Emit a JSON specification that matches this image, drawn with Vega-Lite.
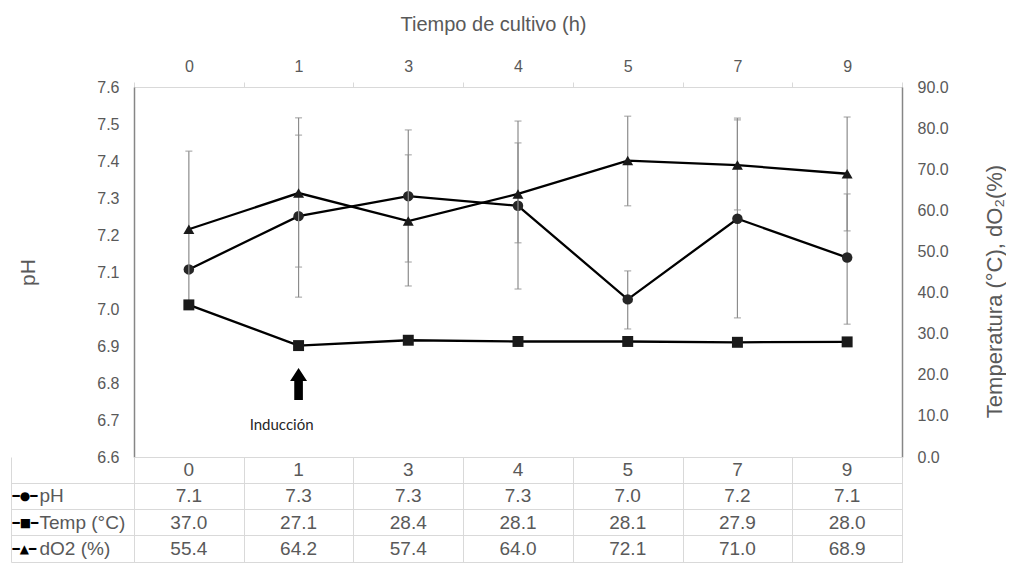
{
  "$schema": "https://vega.github.io/schema/vega-lite/v6.json",
  "padding": {"left": 10, "top": 13, "right": 0, "bottom": 0},
  "background": "white",
  "bounds": "flush",
  "spacing": 0,
  "config": {
    "font": "Liberation Sans",
    "view": {"stroke": "#d9d9d9", "strokeWidth": 1},
    "axis": {"labelFont": "Liberation Sans", "titleFont": "Liberation Sans", "titleFontWeight": "normal", "labelColor": "#595959", "titleColor": "#595959"},
    "axisQuantitative": {"labelOverlap": false}
  },
  "datasets": {
    "obs": [
      {"t": "0", "var": "pH", "value": 7.107},
      {"t": "1", "var": "pH", "value": 7.251},
      {"t": "3", "var": "pH", "value": 7.305},
      {"t": "4", "var": "pH", "value": 7.279},
      {"t": "5", "var": "pH", "value": 7.026},
      {"t": "7", "var": "pH", "value": 7.244},
      {"t": "9", "var": "pH", "value": 7.139},
      {"t": "0", "var": "Temp (°C)", "value": 37.0},
      {"t": "1", "var": "Temp (°C)", "value": 27.1},
      {"t": "3", "var": "Temp (°C)", "value": 28.4},
      {"t": "4", "var": "Temp (°C)", "value": 28.1},
      {"t": "5", "var": "Temp (°C)", "value": 28.1},
      {"t": "7", "var": "Temp (°C)", "value": 27.9},
      {"t": "9", "var": "Temp (°C)", "value": 28.0},
      {"t": "0", "var": "dO2 (%)", "value": 55.4},
      {"t": "1", "var": "dO2 (%)", "value": 64.2},
      {"t": "3", "var": "dO2 (%)", "value": 57.4},
      {"t": "4", "var": "dO2 (%)", "value": 64.0},
      {"t": "5", "var": "dO2 (%)", "value": 72.1},
      {"t": "7", "var": "dO2 (%)", "value": 71.0},
      {"t": "9", "var": "dO2 (%)", "value": 68.9}
    ],
    "errs": [
      {"t": "1", "var": "pH", "lo": 7.032, "hi": 7.470},
      {"t": "3", "var": "pH", "lo": 7.127, "hi": 7.484},
      {"t": "4", "var": "pH", "lo": 7.054, "hi": 7.508},
      {"t": "5", "var": "pH", "lo": 6.946, "hi": 7.103},
      {"t": "7", "var": "pH", "lo": 6.976, "hi": 7.516},
      {"t": "9", "var": "pH", "lo": 6.959, "hi": 7.311},
      {"t": "0", "var": "dO2 (%)", "lo": 36.5, "hi": 74.4},
      {"t": "1", "var": "dO2 (%)", "lo": 46.2, "hi": 82.5},
      {"t": "3", "var": "dO2 (%)", "lo": 41.6, "hi": 73.5},
      {"t": "4", "var": "dO2 (%)", "lo": 52.1, "hi": 76.4},
      {"t": "5", "var": "dO2 (%)", "lo": 61.1, "hi": 82.9},
      {"t": "7", "var": "dO2 (%)", "lo": 60.1, "hi": 82.0},
      {"t": "9", "var": "dO2 (%)", "lo": 55.0, "hi": 82.7}
    ],
    "notes": [
      {"t": "1", "label": "Inducción"}
    ]
  },
  "vconcat": [
    {
      "width": 768,
      "height": 370,
      "layer": [
        {
          "layer": [
            {
              "data": {"name": "errs"},
              "transform": [{"filter": "datum.var == 'pH'"}],
              "mark": {"type": "rule", "color": "#8c8c8c", "strokeWidth": 1.2},
              "encoding": {
                "x": {"field": "t", "type": "ordinal", "bandPosition": 0.5, "title": "Tiempo de cultivo (h)",
                  "scale": {"type": "band", "domain": ["0", "1", "3", "4", "5", "7", "9"], "paddingInner": 0, "paddingOuter": 0},
                  "axis": {"orient": "top", "labelAngle": 0, "labelFontSize": 16, "labelPadding": 8, "tickBand": "extent", "tickSize": 5, "tickColor": "#d9d9d9", "domainColor": "#d9d9d9", "titleFontSize": 20, "titlePadding": 24, "titleX": 359}},
                "y": {"field": "lo", "type": "quantitative", "title": "pH",
                  "scale": {"domain": [6.6, 7.6], "nice": false, "zero": false},
                  "axis": {"orient": "left", "values": [6.6, 6.7, 6.8, 6.9, 7.0, 7.1, 7.2, 7.3, 7.4, 7.5, 7.6], "format": ".1f", "labelOverlap": false, "ticks": false, "grid": false, "domainColor": "#868686", "domainWidth": 1.5, "labelFontSize": 16, "labelPadding": 15, "titleFontSize": 21, "titlePadding": 58}},
                "y2": {"field": "hi"}
              }
            },
            {
              "data": {"name": "errs"},
              "transform": [{"filter": "datum.var == 'pH'"}],
              "mark": {"type": "tick", "color": "#8c8c8c", "size": 7, "thickness": 1.2},
              "encoding": {
                "x": {"field": "t", "type": "ordinal", "title": "Tiempo de cultivo (h)"},
                "y": {"field": "lo", "type": "quantitative", "title": "pH", "scale": {"domain": [6.6, 7.6], "nice": false, "zero": false},
                  "axis": {"orient": "left", "values": [6.6, 6.7, 6.8, 6.9, 7.0, 7.1, 7.2, 7.3, 7.4, 7.5, 7.6], "format": ".1f", "labelOverlap": false, "ticks": false, "grid": false, "domainColor": "#868686", "domainWidth": 1.5, "labelFontSize": 16, "labelPadding": 15, "titleFontSize": 21, "titlePadding": 58}}
              }
            },
            {
              "data": {"name": "errs"},
              "transform": [{"filter": "datum.var == 'pH'"}],
              "mark": {"type": "tick", "color": "#8c8c8c", "size": 7, "thickness": 1.2},
              "encoding": {
                "x": {"field": "t", "type": "ordinal", "title": "Tiempo de cultivo (h)"},
                "y": {"field": "hi", "type": "quantitative", "title": "pH", "scale": {"domain": [6.6, 7.6], "nice": false, "zero": false},
                  "axis": {"orient": "left", "values": [6.6, 6.7, 6.8, 6.9, 7.0, 7.1, 7.2, 7.3, 7.4, 7.5, 7.6], "format": ".1f", "labelOverlap": false, "ticks": false, "grid": false, "domainColor": "#868686", "domainWidth": 1.5, "labelFontSize": 16, "labelPadding": 15, "titleFontSize": 21, "titlePadding": 58}}
              }
            },
            {
              "data": {"name": "obs"},
              "transform": [{"filter": "datum.var == 'pH'"}],
              "mark": {"type": "line", "color": "#000000", "strokeWidth": 2.3},
              "encoding": {
                "x": {"field": "t", "type": "ordinal", "bandPosition": 0.5, "title": "Tiempo de cultivo (h)"},
                "y": {"field": "value", "type": "quantitative", "title": "pH", "scale": {"domain": [6.6, 7.6], "nice": false, "zero": false},
                  "axis": {"orient": "left", "values": [6.6, 6.7, 6.8, 6.9, 7.0, 7.1, 7.2, 7.3, 7.4, 7.5, 7.6], "format": ".1f", "labelOverlap": false, "ticks": false, "grid": false, "domainColor": "#868686", "domainWidth": 1.5, "labelFontSize": 16, "labelPadding": 15, "titleFontSize": 21, "titlePadding": 58}}
              }
            },
            {
              "data": {"name": "obs"},
              "transform": [{"filter": "datum.var == 'pH'"}],
              "mark": {"type": "point", "shape": "circle", "filled": true, "color": "#262626", "opacity": 1, "size": 110},
              "encoding": {
                "x": {"field": "t", "type": "ordinal", "bandPosition": 0.5, "title": "Tiempo de cultivo (h)"},
                "y": {"field": "value", "type": "quantitative", "title": "pH", "scale": {"domain": [6.6, 7.6], "nice": false, "zero": false},
                  "axis": {"orient": "left", "values": [6.6, 6.7, 6.8, 6.9, 7.0, 7.1, 7.2, 7.3, 7.4, 7.5, 7.6], "format": ".1f", "labelOverlap": false, "ticks": false, "grid": false, "domainColor": "#868686", "domainWidth": 1.5, "labelFontSize": 16, "labelPadding": 15, "titleFontSize": 21, "titlePadding": 58}}
              }
            },
            {
              "data": {"name": "notes"},
              "mark": {"type": "point", "shape": "M0,-1L0.53,-0.2L0.27,-0.2L0.27,1L-0.27,1L-0.27,-0.2L-0.53,-0.2Z", "filled": true, "color": "#000000", "opacity": 1, "size": 1024},
              "encoding": {
                "x": {"field": "t", "type": "ordinal", "bandPosition": 0.5, "title": "Tiempo de cultivo (h)"},
                "y": {"datum": 6.797, "type": "quantitative", "title": "pH", "scale": {"domain": [6.6, 7.6], "nice": false, "zero": false},
                  "axis": {"orient": "left", "values": [6.6, 6.7, 6.8, 6.9, 7.0, 7.1, 7.2, 7.3, 7.4, 7.5, 7.6], "format": ".1f", "labelOverlap": false, "ticks": false, "grid": false, "domainColor": "#868686", "domainWidth": 1.5, "labelFontSize": 16, "labelPadding": 15, "titleFontSize": 21, "titlePadding": 58}}
              }
            },
            {
              "data": {"name": "notes"},
              "mark": {"type": "text", "font": "Lato", "fontSize": 15, "color": "#262626", "dx": -17},
              "encoding": {
                "x": {"field": "t", "type": "ordinal", "bandPosition": 0.5, "title": "Tiempo de cultivo (h)"},
                "y": {"datum": 6.686, "type": "quantitative", "title": "pH", "scale": {"domain": [6.6, 7.6], "nice": false, "zero": false},
                  "axis": {"orient": "left", "values": [6.6, 6.7, 6.8, 6.9, 7.0, 7.1, 7.2, 7.3, 7.4, 7.5, 7.6], "format": ".1f", "labelOverlap": false, "ticks": false, "grid": false, "domainColor": "#868686", "domainWidth": 1.5, "labelFontSize": 16, "labelPadding": 15, "titleFontSize": 21, "titlePadding": 58}},
                "text": {"field": "label"}
              }
            }
          ]
        },
        {
          "layer": [
            {
              "data": {"name": "errs"},
              "transform": [{"filter": "datum.var == 'dO2 (%)'"}],
              "mark": {"type": "rule", "color": "#8c8c8c", "strokeWidth": 1.2},
              "encoding": {
                "x": {"field": "t", "type": "ordinal", "bandPosition": 0.5, "title": "Tiempo de cultivo (h)"},
                "y": {"field": "lo", "type": "quantitative", "title": "Temperatura (°C), dO₂(%)",
                  "scale": {"domain": [0, 90], "nice": false},
                  "axis": {"orient": "right", "values": [0, 10, 20, 30, 40, 50, 60, 70, 80, 90], "format": ".1f", "labelOverlap": false, "ticks": false, "grid": false, "domainColor": "#868686", "domainWidth": 1.5, "labelFontSize": 16, "labelPadding": 15, "titleFontSize": 22, "titleAngle": -90, "titlePadding": 58, "titleY": 204}},
                "y2": {"field": "hi"}
              }
            },
            {
              "data": {"name": "errs"},
              "transform": [{"filter": "datum.var == 'dO2 (%)'"}],
              "mark": {"type": "tick", "color": "#8c8c8c", "size": 7, "thickness": 1.2},
              "encoding": {
                "x": {"field": "t", "type": "ordinal", "title": "Tiempo de cultivo (h)"},
                "y": {"field": "lo", "type": "quantitative", "title": "Temperatura (°C), dO₂(%)", "scale": {"domain": [0, 90], "nice": false},
                  "axis": {"orient": "right", "values": [0, 10, 20, 30, 40, 50, 60, 70, 80, 90], "format": ".1f", "labelOverlap": false, "ticks": false, "grid": false, "domainColor": "#868686", "domainWidth": 1.5, "labelFontSize": 16, "labelPadding": 15, "titleFontSize": 22, "titleAngle": -90, "titlePadding": 58, "titleY": 204}}
              }
            },
            {
              "data": {"name": "errs"},
              "transform": [{"filter": "datum.var == 'dO2 (%)'"}],
              "mark": {"type": "tick", "color": "#8c8c8c", "size": 7, "thickness": 1.2},
              "encoding": {
                "x": {"field": "t", "type": "ordinal", "title": "Tiempo de cultivo (h)"},
                "y": {"field": "hi", "type": "quantitative", "title": "Temperatura (°C), dO₂(%)", "scale": {"domain": [0, 90], "nice": false},
                  "axis": {"orient": "right", "values": [0, 10, 20, 30, 40, 50, 60, 70, 80, 90], "format": ".1f", "labelOverlap": false, "ticks": false, "grid": false, "domainColor": "#868686", "domainWidth": 1.5, "labelFontSize": 16, "labelPadding": 15, "titleFontSize": 22, "titleAngle": -90, "titlePadding": 58, "titleY": 204}}
              }
            },
            {
              "data": {"name": "obs"},
              "transform": [{"filter": "datum.var != 'pH'"}],
              "mark": {"type": "line", "color": "#000000", "strokeWidth": 2.3},
              "encoding": {
                "x": {"field": "t", "type": "ordinal", "bandPosition": 0.5, "title": "Tiempo de cultivo (h)"},
                "y": {"field": "value", "type": "quantitative", "title": "Temperatura (°C), dO₂(%)", "scale": {"domain": [0, 90], "nice": false},
                  "axis": {"orient": "right", "values": [0, 10, 20, 30, 40, 50, 60, 70, 80, 90], "format": ".1f", "labelOverlap": false, "ticks": false, "grid": false, "domainColor": "#868686", "domainWidth": 1.5, "labelFontSize": 16, "labelPadding": 15, "titleFontSize": 22, "titleAngle": -90, "titlePadding": 58, "titleY": 204}},
                "detail": {"field": "var"}
              }
            },
            {
              "data": {"name": "obs"},
              "transform": [{"filter": "datum.var != 'pH'"}],
              "mark": {"type": "point", "filled": true, "color": "#1a1a1a", "opacity": 1, "size": 120},
              "encoding": {
                "x": {"field": "t", "type": "ordinal", "bandPosition": 0.5, "title": "Tiempo de cultivo (h)"},
                "y": {"field": "value", "type": "quantitative", "title": "Temperatura (°C), dO₂(%)", "scale": {"domain": [0, 90], "nice": false},
                  "axis": {"orient": "right", "values": [0, 10, 20, 30, 40, 50, 60, 70, 80, 90], "format": ".1f", "labelOverlap": false, "ticks": false, "grid": false, "domainColor": "#868686", "domainWidth": 1.5, "labelFontSize": 16, "labelPadding": 15, "titleFontSize": 22, "titleAngle": -90, "titlePadding": 58, "titleY": 204}},
                "shape": {"field": "var", "type": "nominal", "scale": {"domain": ["Temp (°C)", "dO2 (%)"], "range": ["square", "triangle-up"]}, "legend": null}
              }
            }
          ]
        }
      ],
      "resolve": {"scale": {"y": "independent"}}
    },
    {
      "width": 768,
      "height": 105,
      "data": {"name": "obs"},
      "layer": [
        {
          "mark": {"type": "text", "fontSize": 19, "color": "#595959", "font": "Liberation Sans"},
          "encoding": {
            "x": {"field": "t", "type": "ordinal", "bandPosition": 0.5,
              "scale": {"type": "band", "domain": ["0", "1", "3", "4", "5", "7", "9"], "paddingInner": 0, "paddingOuter": 0},
              "axis": {"orient": "bottom", "title": null, "labels": false, "ticks": false, "domain": false, "grid": true, "gridColor": "#d9d9d9", "tickBand": "extent"}},
            "y": {"field": "var", "type": "ordinal", "bandPosition": 0.5,
              "scale": {"type": "band", "domain": ["t", "pH", "Temp (°C)", "dO2 (%)"], "paddingInner": 0, "paddingOuter": 0},
              "axis": {"orient": "left", "title": null, "domain": false, "bandPosition": 1, "tickExtra": false, "tickSize": 123, "tickColor": "#d9d9d9", "grid": true, "gridColor": "#d9d9d9", "labelAlign": "left", "labelPadding": -28, "labelFontSize": 19, "labelColor": "#595959", "labelExpr": "datum.value == 't' ? '' : datum.label"}},
            "text": {"field": "value", "type": "quantitative", "format": ".1f"}
          }
        },
        {
          "transform": [{"filter": "datum.var == 'pH'"}],
          "mark": {"type": "text", "fontSize": 19, "color": "#595959", "font": "Liberation Sans"},
          "encoding": {
            "x": {"field": "t", "type": "ordinal", "bandPosition": 0.5},
            "y": {"datum": "t", "type": "ordinal", "bandPosition": 0.5,
              "axis": {"orient": "left", "title": null, "offset": 123, "domain": true, "domainColor": "#d9d9d9", "domainWidth": 1, "ticks": false, "grid": false, "labelAlign": "left", "labelPadding": -1, "labelFont": "DejaVu Sans", "labelFontSize": 12, "labelColor": "#000000", "labelExpr": "datum.value == 'pH' ? '━●━' : datum.value == 'Temp (°C)' ? '━■━' : datum.value == 'dO2 (%)' ? '━▲━' : ''"}},
            "text": {"field": "t"}
          }
        }
      ],
      "resolve": {"axis": {"y": "independent"}}
    }
  ]
}
